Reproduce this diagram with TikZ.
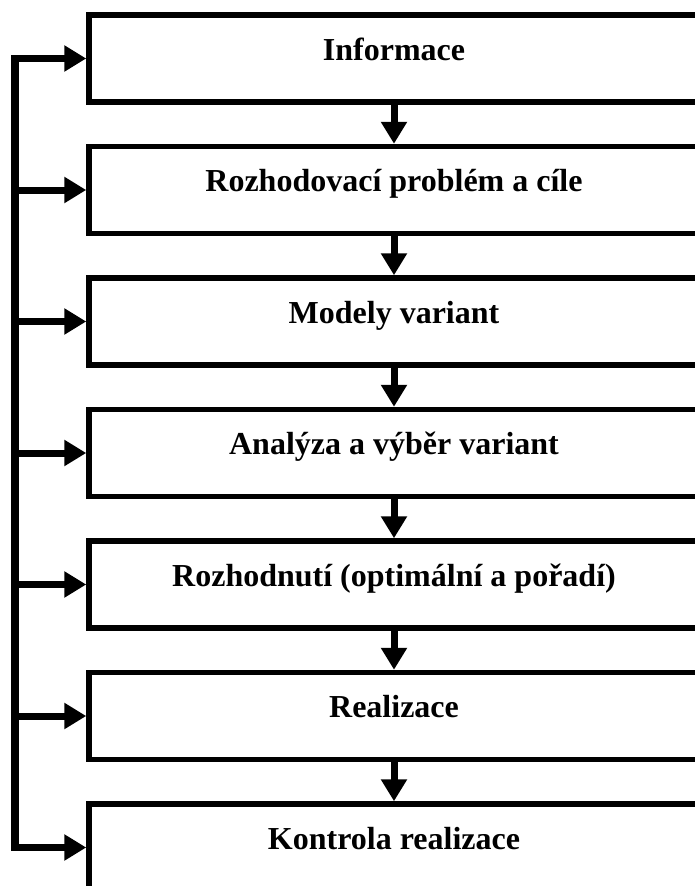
\documentclass[tikz,border=0pt]{standalone}
\usepackage{fontspec}
\setmainfont{Liberation Serif}
\usetikzlibrary{arrows.meta}
\tikzset{
  krok/.style={draw, line width=5.5pt, rectangle, inner sep=0pt,
    minimum width=610pt, text height=45pt, text depth=42pt,
    font=\fontsize{32}{38}\selectfont\bfseries},
  sip/.style={line width=7pt, -{Triangle[length=22pt,width=25pt]}}
}
\begin{document}
\begin{tikzpicture}[x=1pt,y=-1pt]
            % page size and cut at the edges
            \useasboundingbox (0,0) rectangle (695,886);
            \clip (0,0) rectangle (695,886);

            % Steps of the decision process
            \foreach \n/\t [count=\i from 0] in {inf/Informace, prob/Rozhodovac\'{\i} probl\'em a c\'{\i}le, mod/Modely variant, anal/Anal\'yza a v\'yb\v{e}r variant, rozh/Rozhodnut\'{\i} (optim\'aln\'{\i} a po\v{r}ad\'{\i}), real/Realizace, kontr/Kontrola realizace}
                \node[krok] (\n) at (394, 58.5+\i*131.5) {\t};

            % Arrows down between steps
            \foreach \a/\b in {inf/prob, prob/mod, mod/anal, anal/rozh, rozh/real, real/kontr}
                \draw[sip] (\a.south) -- (\b.north);

            % Feedback line on the left
            \coordinate (bus) at (15,0);
            \draw[line width=7.5pt, line cap=rect] (bus |- inf.west) -- (bus |- kontr.west);
            \foreach \n in {inf, prob, mod, anal, rozh, real, kontr}
                \draw[sip] (bus |- \n.west) -- (\n.west);
        \end{tikzpicture}
\end{document}
